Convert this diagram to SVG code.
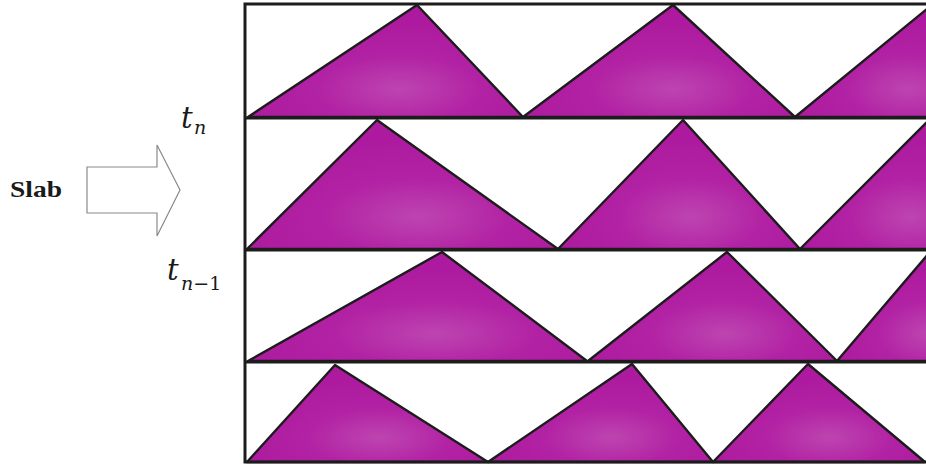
<svg xmlns="http://www.w3.org/2000/svg" width="926" height="468" viewBox="0 0 926 468">
<defs>
<radialGradient id="shine" cx="0.55" cy="0.75" r="0.6">
<stop offset="0" stop-color="#bd45b0"/>
<stop offset="0.5" stop-color="#b222a4"/>
<stop offset="1" stop-color="#ad1a9f"/>
</radialGradient>
<style>
.tri{fill:url(#shine);stroke:#1c1c1c;stroke-width:2.4;stroke-linejoin:round}
.frame{fill:none;stroke:#1c1c1c;stroke-width:3}
.arrow{fill:#ffffff;stroke:#8a8a8a;stroke-width:1.2}
</style>
</defs>
<rect width="926" height="468" fill="#ffffff"/>

<g id="row1">
<polygon class="tri" points="248,117 417,5 523,117"/>
<polygon class="tri" points="523,117 673,5 795,117"/>
<polygon class="tri" points="795,117 933,4 1000,117"/>
</g>
<g id="row2">
<polygon class="tri" points="247,249 377,120 558,249"/>
<polygon class="tri" points="558,249 683,120 800,249"/>
<polygon class="tri" points="800,249 929,120 1000,249"/>
</g>
<g id="row3">
<polygon class="tri" points="248,361 442,252 587,361"/>
<polygon class="tri" points="588,361 727,252 837,361"/>
<polygon class="tri" points="837,361 930,252 1000,361"/>
</g>
<g id="row4">
<polygon class="tri" points="247,462 335,365 488,462"/>
<polygon class="tri" points="488,462 632,364 713,462"/>
<polygon class="tri" points="713,462 808,364 925,462"/>
</g>

<g id="frame">
<path class="frame" d="M930,4 H245 V462 H930 M245,118 H930 M245,250 H930 M245,362 H930"/>
</g>

<g id="connectors">
<polygon class="arrow" points="87,167 157,167 157,145 180,190 157,236 157,213 87,213"/>
</g>

<g id="label-slab">
<text x="10" y="197" font-family="Liberation Serif, serif" font-size="23" font-weight="bold" fill="#1a1a1a" textLength="52" lengthAdjust="spacingAndGlyphs">Slab</text>
</g>
<g id="label-tn" font-family="DejaVu Serif, serif" fill="#1a1a1a">
<text x="181" y="128" font-size="29" font-style="italic">t</text>
<text x="194" y="134" font-size="19" font-style="italic">n</text>
</g>
<g id="label-tn1" font-family="DejaVu Serif, serif" fill="#1a1a1a">
<text x="167" y="280" font-size="29" font-style="italic">t</text>
<text x="181" y="290" font-size="19"><tspan font-style="italic">n</tspan>−1</text>
</g>
</svg>
